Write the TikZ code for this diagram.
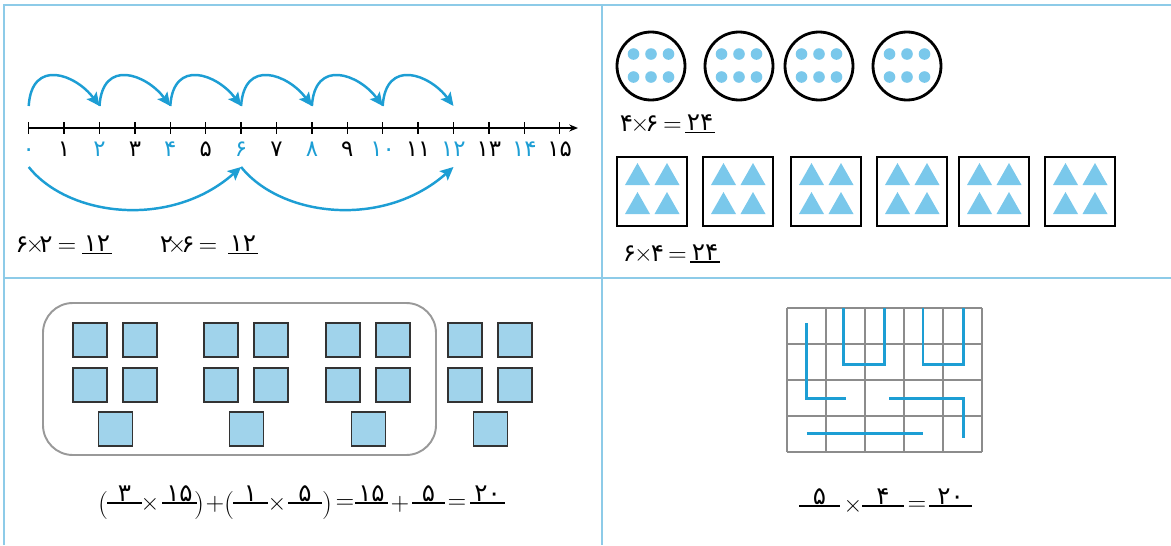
\documentclass[tikz,border=0pt]{standalone}
\usepackage{fontspec}
\newfontfamily\fa[Script=Arabic]{DejaVu Sans}
\usetikzlibrary{arrows.meta,positioning}
\definecolor{frameblue}{RGB}{141,203,232}
\definecolor{hopblue}{RGB}{29,158,212}
\definecolor{dotblue}{RGB}{122,200,235}
\definecolor{tileblue}{RGB}{160,211,235}

\begin{document}
\begin{tikzpicture}[x=0.02cm, y=-0.02cm,
    frame/.style={draw=frameblue, line width=1.7pt},
    hop/.style={draw=hopblue, line width=1.4pt, -{Stealth[length=7.5pt,width=7pt,inset=1.5pt]}},
    axis/.style={draw=black, line width=0.7pt, -{Stealth[length=5pt,width=4pt]}},
    lab/.style={font=\fa\fontsize{13}{15}\selectfont, inner sep=0pt, anchor=base},
    dig/.style={font=\fa\fontsize{14}{16}\selectfont, inner sep=0pt, anchor=base},
    sym/.style={font=\fontsize{14}{16}\selectfont, inner sep=0pt},
    paren/.style={font=\fontsize{16}{18}\selectfont, inner sep=0pt},
    blank/.style={draw=black, line width=0.6pt},
    bag/.style={draw=black, line width=1.6pt},
    tile/.style={draw=black!80, line width=0.7pt, fill=tileblue},
    gridline/.style={draw=black!45, line width=0.7pt},
    route/.style={draw=hopblue, line width=1.6pt}
]
\useasboundingbox (0,0) rectangle (1171,545);

% panel frame
\draw[frame] (4,545) -- (4,5) -- (1171,5);
\draw[frame] (602,5) -- (602,545);
\draw[frame] (4,278) -- (1171,278);

% number line
\foreach \n in {0,...,15} {
  \coordinate (t\n) at ({28.7+35.4*\n},128);
  \coordinate (u\n) at ({28.7+35.4*\n},106);
  \coordinate (d\n) at ({28.7+35.4*\n},167);
  \draw[line width=0.7pt] (t\n) ++(0,-6) -- ++(0,12);
}
\coordinate (tend) at (578,128);
\draw[axis] (t0) -- (tend);
\foreach \n/\d/\c in {0/۰/hopblue,1/۱/black,2/۲/hopblue,3/۳/black,4/۴/hopblue,5/۵/black,
    6/۶/hopblue,7/۷/black,8/۸/hopblue,9/۹/black,10/۱۰/hopblue,11/۱۱/black,
    12/۱۲/hopblue,13/۱۳/black,14/۱۴/hopblue,15/۱۵/black}
  \node[lab, text=\c] (l\n) at ({28.7+35.4*\n},156) {\d};
\foreach \a/\b in {0/2,2/4,4/6,6/8,8/10,10/12}
  \draw[hop] (u\a) .. controls +(3,-48) and +(-24,-32) .. (u\b);
\draw[hop] (d0) .. controls +(40,50) and +(-70,62) .. (d6);
\draw[hop] (d6) .. controls +(40,50) and +(-70,62) .. (d12);

% top left equations
\node[dig] (a1) at (22,252) {۶};
\node[sym, anchor=base] (a2) at (35,252) {×};
\node[dig] (a3) at (46,252) {۲};
\node[sym, anchor=base] (a4) at (67,252) {=};
\node[dig] (a5) at (97,251) {۱۲};
\draw[blank] (82,253.5) -- (112,253.5);
\node[dig] (e1) at (166.5,252) {۲};
\node[sym, anchor=base] (e2) at (177,252) {×};
\node[dig] (e3) at (188,252) {۶};
\node[sym, anchor=base] (e4) at (208,252) {=};
\node[dig] (e5) at (243,251) {۱۲};
\draw[blank] (228,253.5) -- (258,253.5);

% circles with dots
\foreach \cx in {651,739,819,907} {
  \draw[bag] (\cx,66) circle[radius=34];
  \foreach \dx in {-17.5,0,17.5}
    \foreach \dy in {-12,11}
      \fill[dotblue] ({\cx+\dx},{66+\dy}) circle[radius=5.8];
}
\node[dig] (c1) at (626.5,131.5) {۴};
\node[sym, anchor=base] (c2) at (640,131.5) {×};
\node[dig] (c3) at (652,131.5) {۶};
\node[sym, anchor=base] (c4) at (672.5,131.5) {=};
\node[dig] (c5) at (700,130.5) {۲۴};
\draw[blank] (685,132.5) -- (715,132.5);

% boxes with triangles
\foreach \sx in {617,703,791,877,959,1045} {
  \draw[bag] (\sx,157) rectangle ++(70,69);
  \foreach \tx in {20.5,50}
    \foreach \ty in {185,214}
      \fill[dotblue] ({\sx+\tx-12.5},\ty) -- ++(25,0) -- ++(-12.5,-22) -- cycle;
}
\node[dig] (s1) at (629.5,261) {۶};
\node[sym, anchor=base] (s2) at (643.5,261) {×};
\node[dig] (s3) at (657.5,261) {۴};
\node[sym, anchor=base] (s4) at (677.5,261) {=};
\node[dig] (s5) at (705,260) {۲۴};
\draw[blank] (690,262) -- (720,262);

% tiles
\draw[draw=black!40, line width=1.1pt, rounded corners=17pt] (43,303) rectangle (436,455);
\foreach \gx in {73,204,326,448}
  \foreach \ox/\oy in {0/323,50/323,0/368,50/368,25.5/412}
    \draw[tile] ({\gx+\ox},\oy) rectangle ++(34,34);
\foreach \nm/\x in {p1/103,p5/229}
  \node[paren] (\nm) at (\x,505) {(};
\foreach \nm/\x in {p3/199,p7/327}
  \node[paren] (\nm) at (\x,505) {)};
\foreach \nm/\x/\s in {p2/150/×,p4/215/+,p6/277/×,p8/345/=,p9/400/+,p10/457/=}
  \node[sym] (\nm) at (\x,504) {\s};
\foreach \nm/\xa/\xb/\d in {q1/107/142/۳,q2/162/197/۱۵,q3/233/268/۱,q4/288/322/۵,
    q5/355/388/۱۵,q6/412/445/۵,q7/470/505/۲۰} {
  \draw[blank] (\xa,503) -- (\xb,503);
  \node[dig] (\nm) at ({(\xa+\xb)/2},501) {\d};
}

% grid with routes
\foreach \i in {0,...,5}
  \draw[gridline] ({787+39*\i},308) -- ({787+39*\i},452);
\foreach \j in {0,...,4}
  \draw[gridline] (787,{308+36*\j}) -- (982,{308+36*\j});
\begin{scope}[shift={(787,308)}, x=0.78cm, y=-0.72cm]
  \draw[route] (0.49,0.42) -- (0.49,2.51) -- (1.52,2.51);
  \draw[route] (1.45,0) -- (1.45,1.56) -- (2.5,1.56) -- (2.5,0);
  \draw[route] (3.49,0) -- (3.49,1.56) -- (4.52,1.56) -- (4.52,0);
  \draw[route] (2.62,2.51) -- (4.52,2.51) -- (4.52,3.62);
  \draw[route] (0.51,3.48) -- (3.49,3.48);
\end{scope}
\foreach \nm/\x/\s in {r1/853/×,r2/917/=}
  \node[sym] (\nm) at (\x,506) {\s};
\foreach \nm/\xa/\xb/\d in {w1/799/840/۵,w2/862/904/۴,w3/929/972/۲۰} {
  \draw[blank] (\xa,506) -- (\xb,506);
  \node[dig] (\nm) at ({(\xa+\xb)/2},504) {\d};
}
\end{tikzpicture}
\end{document}
